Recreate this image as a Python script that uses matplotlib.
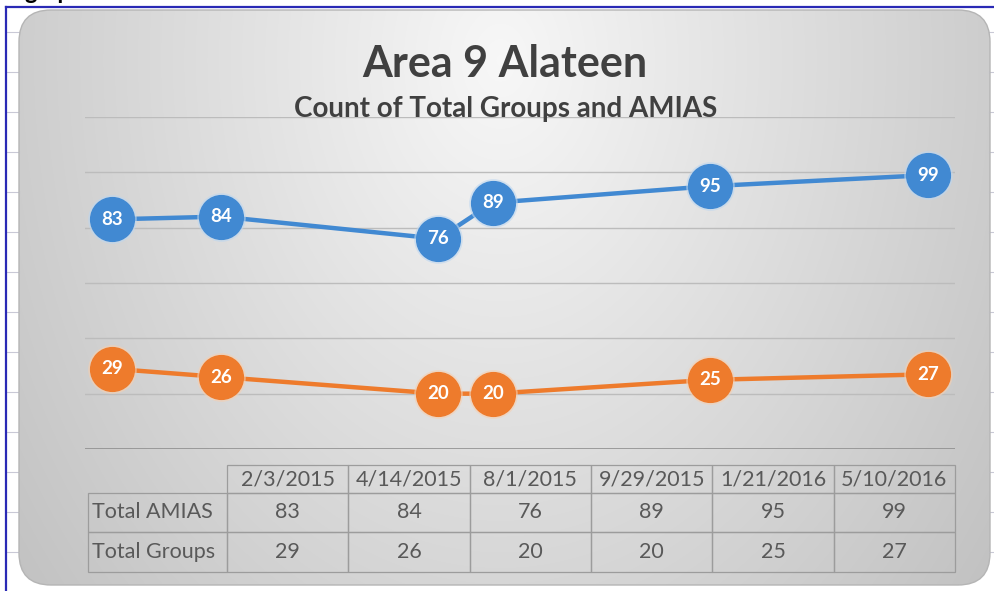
import matplotlib
matplotlib.use('Agg')
import matplotlib.pyplot as plt
import numpy as np
from matplotlib.patches import FancyBboxPatch
from matplotlib.lines import Line2D

# ---------------- data ----------------
dates = ['2/3/2015', '4/14/2015', '8/1/2015', '9/29/2015', '1/21/2016', '5/10/2016']
total_amias = [83, 84, 76, 89, 95, 99]
total_groups = [29, 26, 20, 20, 25, 27]
series_names = ['Total AMIAS', 'Total Groups']
title = 'Area 9 Alateen'
subtitle = 'Count of Total Groups and AMIAS'
y_ticks = [0, 20, 40, 60, 80, 100, 120]

plt.rcParams['font.family'] = ['Lato', 'DejaVu Sans']

# Excel date axis with base unit = months
def month_index(s):
    m, d, y = map(int, s.split('/'))
    return y * 12 + m

x_start = month_index(dates[0])
xs = [month_index(s) - x_start for s in dates]
n_months = xs[-1] + 1

W, H = 995, 591
fig = plt.figure(figsize=(W / 100, H / 100), dpi=100)
fig.patch.set_facecolor('white')

def fx(px):
    return px / W

def fy(py):
    return 1 - py / H

# ---------------- background (spreadsheet + chart area) ----------------
bg = fig.add_axes([0, 0, 1, 1])
bg.set_xlim(0, W)
bg.set_ylim(H, 0)
bg.axis('off')

# spreadsheet row lines peeking out
for yrow in range(32, H, 40):
    bg.add_line(Line2D([7, 19], [yrow, yrow], color='#c9c9d6', lw=0.8))
    bg.add_line(Line2D([989, 995], [yrow, yrow], color='#c9c9d6', lw=0.8))
# blue frame
bg.add_line(Line2D([6, W], [7, 7], color='#2a2ab5', lw=1.6))
bg.add_line(Line2D([6, 6], [7, H], color='#2a2ab5', lw=1.6))

yy, xx = np.mgrid[0:H, 0:W]
r = np.sqrt(((xx - 500) / 560.0) ** 2 + ((yy - 60) / 760.0) ** 2)
v = np.clip(0.97 - 0.19 * r, 0, 1)
img = np.dstack([v, v, v])
chart_box = FancyBboxPatch((19, 10), 971, 575,
                           boxstyle='round,pad=0,rounding_size=32',
                           transform=bg.transData, facecolor='none',
                           edgecolor='#b5b5b5', lw=1.0, zorder=3)
im = bg.imshow(img, extent=(0, W, H, 0), zorder=1, interpolation='bilinear')
bg.add_patch(chart_box)
im.set_clip_path(chart_box)

# cut-off text above the frame (as in the screenshot)
fig.text(fx(24), fy(-1), 'graph', ha='left', va='baseline', fontsize=17,
         fontweight='bold', color='black')

# ---------------- titles ----------------
fig.text(fx(505), fy(77), title, ha='center', va='baseline', fontsize=31,
         fontweight='bold', color='#404040')
fig.text(fx(506), fy(117), subtitle, ha='center', va='baseline', fontsize=20,
         fontweight='bold', color='#404040')

# ---------------- plot ----------------
ax = fig.add_axes([fx(85), fy(449), fx(955) - fx(85), (449 - 117) / H])
ax.patch.set_alpha(0)
ax.set_xlim(-0.5, n_months - 0.5)
ax.set_ylim(y_ticks[0], y_ticks[-1])
for s in ax.spines.values():
    s.set_visible(False)
ax.set_xticks([])
ax.set_yticks(y_ticks)
ax.tick_params(left=False, labelleft=False)
ax.grid(axis='y', color='#bcbcbc', lw=1.0)
ax.set_axisbelow(True)
ax.axhline(y_ticks[0], color='#8a8a8a', lw=1.8, zorder=2)

blue = '#4189d2'
orange = '#ee7b2c'
for vals, col, glow in [(total_amias, blue, '#bcd6f0'), (total_groups, orange, '#f6cfb0')]:
    ax.plot(xs, vals, color=col, lw=3.2, zorder=3, solid_capstyle='round')
    ax.plot(xs, vals, ls='none', marker='o', ms=35, mfc=glow, mec='none',
            alpha=0.6, zorder=4)
    ax.plot(xs, vals, ls='none', marker='o', ms=31.5, mfc=col, mec=col, zorder=5)
    for x, val in zip(xs, vals):
        ax.text(x, val, str(val), ha='center', va='center', color='white',
                fontsize=13.5, fontweight='bold', zorder=6)

# ---------------- data table ----------------
cell_text = [[''] + dates,
             [series_names[0]] + [str(v) for v in total_amias],
             [series_names[1]] + [str(v) for v in total_groups]]
col_w = [139] + [121.2] * len(dates)
tw = sum(col_w)
ax_h = 449 - 117
tab = ax.table(cellText=cell_text, colWidths=[c / tw for c in col_w],
               cellLoc='center',
               bbox=[(88 - 85) / 870, (449 - 572) / ax_h, (955 - 88) / 870,
                     (572 - 465) / ax_h])
tab.auto_set_font_size(False)
tab.set_fontsize(15.5)
row_h = [28, 39, 40]
for (rr, cc), cell in tab.get_celld().items():
    cell.set_facecolor('none')
    cell.set_edgecolor('#9c9c9c')
    cell.set_linewidth(0.9)
    cell.set_height(row_h[rr] / 107)
    cell.get_text().set_color('#595959')
    if cc == 0:
        cell.get_text().set_ha('left')
        cell._loc = 'left'
        cell.PAD = 0.03
    if rr == 0 and cc == 0:
        cell.visible_edges = ''

fig.savefig('out.png', dpi=100)
